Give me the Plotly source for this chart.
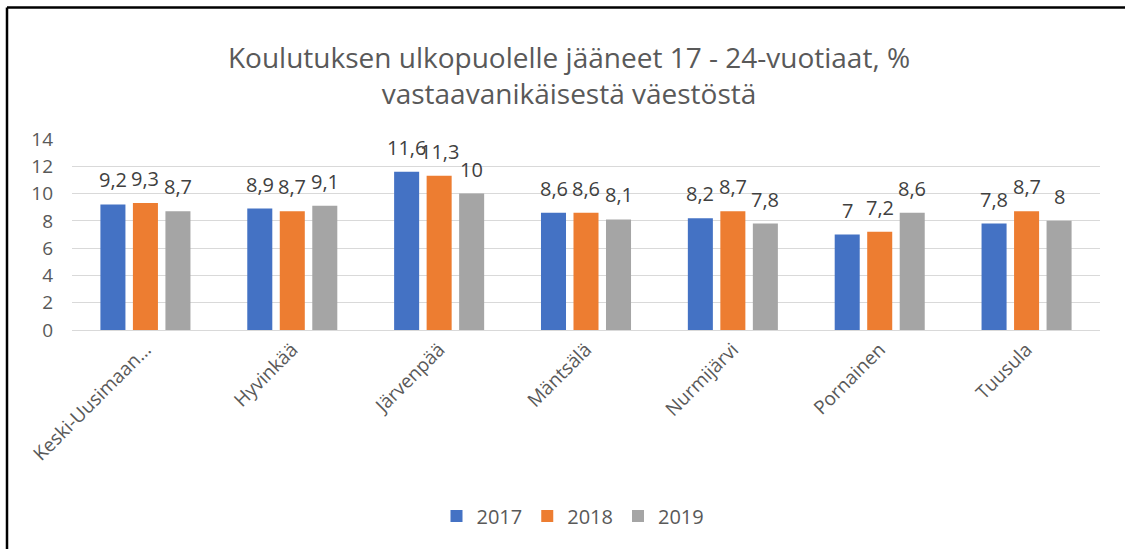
import plotly.graph_objects as go

categories = ["Keski-Uusimaan…", "Hyvinkää", "Järvenpää", "Mäntsälä", "Nurmijärvi", "Pornainen", "Tuusula"]
v2017 = [9.2, 8.9, 11.6, 8.6, 8.2, 7.0, 7.8]
v2018 = [9.3, 8.7, 11.3, 8.6, 8.7, 7.2, 8.7]
v2019 = [8.7, 9.1, 10.0, 8.1, 7.8, 8.6, 8.0]
years = ["2017", "2018", "2019"]
colors = ["#4472C4", "#ED7D31", "#A5A5A5"]
yticks = [0, 2, 4, 6, 8, 10, 12, 14]

def fmt(v):
    return "{:g}".format(v).replace(".", ",")

W, H = 1125, 549
ml, mr, mt, mb = 72, 25, 139, 219
pw, ph = W - ml - mr, H - mt - mb

def px2x(px):
    return (px - ml) / pw

def py2y(py):
    return (H - mb - py) / ph

fig = go.Figure()
series = [v2017, v2018, v2019]
for name, vals, col in zip(years, series, colors):
    fig.add_trace(go.Bar(
        x=categories, y=vals, name=name, marker_color=col,
        marker_line_width=0,
    ))

annotations = []
shifts = [-32.5, 0, 32.5]
for vals, sh in zip(series, shifts):
    for c, v in zip(categories, vals):
        annotations.append(dict(
            x=c, y=v, xref="x", yref="y", text=fmt(v), showarrow=False,
            xshift=sh, yshift=9, yanchor="bottom", xanchor="center",
            font=dict(size=20, color="#404040", family="Open Sans, sans-serif"),
        ))

fig.update_layout(
    width=W, height=H,
    margin=dict(l=ml, r=mr, t=mt, b=mb),
    paper_bgcolor="white", plot_bgcolor="white",
    font=dict(family="Open Sans, sans-serif", color="#595959"),
    title=dict(text="Koulutuksen ulkopuolelle jääneet 17 - 24-vuotiaat, %<br>vastaavanikäisestä väestöstä",
               x=569 / W, xanchor="center",
               y=1 - 68 / H, yanchor="middle",
               font=dict(size=28, color="#595959")),
    barmode="group", bargap=0.336, bargroupgap=0.23,
    showlegend=True,
    legend=dict(orientation="h", x=px2x(573), xanchor="center", y=py2y(516), yanchor="middle",
                font=dict(size=20, color="#595959"), traceorder="normal"),
    xaxis=dict(tickangle=-45, tickfont=dict(size=19, color="#595959"),
               showline=True, linecolor="#D9D9D9", ticks=""),
    yaxis=dict(range=[0, 14], tickvals=yticks, tickfont=dict(size=19, color="#595959"),
               showgrid=True, gridcolor="#D9D9D9", zeroline=False, ticks="",
               ticklabelstandoff=18),
    annotations=annotations,
    shapes=[
        dict(type="line", xref="paper", yref="paper",
             x0=px2x(7), x1=px2x(1130), y0=py2y(7.5), y1=py2y(7.5),
             line=dict(color="black", width=2.5), layer="above"),
        dict(type="line", xref="paper", yref="paper",
             x0=px2x(7), x1=px2x(7), y0=py2y(7.5), y1=py2y(560),
             line=dict(color="black", width=2.5), layer="above"),
    ],
)

fig.write_html("out.html", config={"displayModeBar": False},
               post_script="document.body.style.margin='0';")
